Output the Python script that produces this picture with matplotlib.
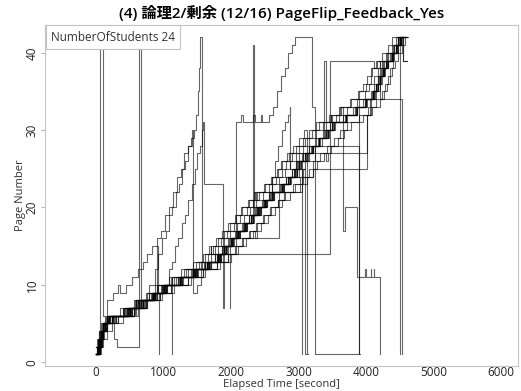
import matplotlib
matplotlib.use("Agg")
import matplotlib.pyplot as plt

plt.rcParams['font.family'] = ['Open Sans', 'Noto Sans CJK JP', 'DejaVu Sans']

title = "(4) 論理2/剰余 (12/16) PageFlip_Feedback_Yes"
xlabel = "Elapsed Time [second]"
ylabel = "Page Number"
legend_text = "NumberOfStudents 24"
xticks = [0, 1000, 2000, 3000, 4000, 5000, 6000]
yticks = [0, 10, 20, 30, 40]

# (elapsed seconds, page) for each student
s01 = [(0,1),(30,3),(60,42),(100,6),(130,5),(210,6),(300,5),(320,6),(500,7),(660,8),(870,9),(1020,10),(1260,11),(1440,12),(1470,11),(1500,12),(1660,13),(1810,14),(1910,15),(2010,16),(2110,17),(2200,18),(2310,19),(2400,20),(2510,21),(2600,22),(2760,23),(2860,24),(2940,25),(3010,26),(3110,27),(3210,28),(3310,29),(3420,30),(3520,31),(3710,32),(3860,33),(3990,34),(4110,35),(4160,36),(4210,37),(4260,38),(4310,39),(4390,40),(4460,41),(4520,42),(4580,42)]
s02 = [(0,1),(40,2),(90,4),(150,5),(260,3),(310,2),(640,42),(665,8),(700,7),(760,8),(860,9),(1000,10),(1180,11),(1360,12),(1560,13),(1620,12),(1650,13),(1710,14),(1800,15),(1900,16),(1990,17),(2090,18),(2190,19),(2280,20),(2370,21),(2470,22),(2610,23),(2710,24),(2800,25),(2870,26),(2960,27),(3060,28),(3160,29),(3260,30),(3360,31),(3560,32),(3720,33),(3870,34),(3990,35),(4050,36),(4110,37),(4170,38),(4230,39),(4310,40),(4390,41),(4450,42),(4540,42)]
s03 = [(0,1),(60,3),(160,8),(250,9),(330,10),(360,9),(450,10),(540,11),(620,12),(690,13),(760,14),(830,15),(900,16),(960,17),(1020,19),(1080,20),(1140,22),(1200,24),(1260,25),(1310,27),(1360,28),(1420,30),(1440,9),(1500,10),(1560,12),(1700,13),(1850,14),(1960,15),(2075,16),(2080,31),(2150,32),(2170,31),(2330,32),(2350,31),(2440,32),(2460,31),(2560,32),(2620,33),(2680,35),(2740,37),(2800,38),(2850,40),(2900,41),(2950,42),(3200,33),(3240,1),(3900,34),(4100,35),(4180,37),(4250,39),(4330,40),(4420,41),(4470,42),(4560,42)]
s04 = [(0,1),(50,3),(110,5),(200,6),(420,7),(600,8),(780,10),(880,12),(920,14),(980,16),(1030,17),(1080,19),(1130,20),(1180,22),(1230,23),(1280,25),(1320,26),(1370,28),(1410,29),(1450,30),(1480,32),(1510,35),(1530,38),(1545,42),(1565,12),(1680,13),(1820,14),(1920,15),(2020,16),(2120,17),(2220,18),(2320,19),(2420,20),(2520,21),(2620,22),(2770,23),(2870,24),(2960,25),(3020,26),(3120,27),(3220,28),(3320,29),(3430,30),(3530,31),(3720,32),(3870,33),(4010,34),(4120,35),(4170,36),(4220,37),(4270,38),(4320,39),(4400,40),(4470,41),(4510,42),(4550,39),(4600,39)]
s05 = [(0,2),(40,4),(100,5),(180,6),(350,7),(400,6),(460,7),(620,8),(830,9),(980,10),(1230,11),(1460,12),(1600,13),(1640,12),(1700,13),(1790,14),(1900,15),(1985,7),(1990,7)]
s06 = [(0,1),(70,3),(120,4),(230,5),(400,6),(560,7),(720,8),(850,9),(900,15),(915,9),(930,1),(935,1)]
s07 = [(0,1),(30,2),(80,4),(140,5),(250,6),(520,7),(700,8),(900,9),(1050,10),(1125,1),(1130,1)]
s08 = [(0,1),(40,2),(90,4),(160,5),(280,6),(500,7),(680,8),(870,9),(1000,10),(1080,12),(1120,13),(1170,15),(1220,16),(1270,18),(1320,19),(1370,21),(1420,23),(1460,25),(1500,27),(1540,28),(1570,30),(1590,31),(1600,23),(1880,7),(1900,15),(2000,16),(2090,17),(2190,18),(2290,19),(2390,20),(2490,21),(2590,22),(2740,23),(2840,24),(2930,25),(2990,26),(3090,27),(3190,28),(3290,29),(3390,30),(3490,31),(3690,32),(3840,33),(3980,34),(4090,35),(4140,36),(4190,37),(4240,38),(4290,39),(4370,40),(4440,41),(4490,42),(4570,42)]
s09 = [(0,1),(50,3),(100,5),(190,6),(460,7),(640,8),(840,9),(990,10),(1240,11),(1440,12),(1640,13),(1790,14),(1890,15),(1990,16),(2090,17),(2190,18),(2290,19),(2390,20),(2490,21),(2560,22),(2600,24),(2650,26),(2700,28),(2750,30),(2800,31),(2840,32),(2870,33),(2880,25),(2960,26),(3010,27),(3050,1),(3055,1)]
s10 = [(0,1),(20,2),(60,3),(90,4),(130,5),(240,6),(560,7),(600,6),(620,7),(740,8),(950,9),(1110,10),(1370,11),(1590,12),(1790,13),(1950,14),(2060,15),(2160,16),(2270,17),(2370,18),(2480,19),(2580,20),(2690,21),(2790,22),(2920,23),(3020,24),(3060,25),(3100,1),(3105,1)]
s11 = [(0,2),(30,3),(70,4),(110,5),(180,6),(420,7),(580,8),(760,9),(900,10),(1120,11),(1300,12),(1480,13),(1620,14),(1710,15),(1800,16),(1890,17),(1980,18),(2070,19),(2160,20),(2260,21),(2350,22),(2490,23),(2590,24),(2680,25),(2740,26),(2830,27),(2920,28),(3010,29),(3080,30),(3130,1),(3135,1)]
s12 = [(0,1),(60,3),(110,5),(210,6),(490,7),(660,8),(860,9),(1010,10),(1260,11),(1450,12),(1660,13),(1810,14),(3470,39),(4120,38),(4200,39),(4300,40),(4400,41),(4480,42),(4560,42)]
s13 = [(0,1),(40,3),(100,5),(200,6),(480,7),(650,8),(850,9),(1000,10),(1250,11),(1450,12),(1650,13),(1800,14),(1900,15),(2030,16),(2710,22),(3050,25),(3100,26),(3150,27),(3210,28),(3300,29),(3400,30),(3500,31),(3700,32),(3850,33),(4000,34),(4100,35),(4150,36),(4200,37),(4250,38),(4300,39),(4380,40),(4450,41),(4500,42),(4590,42)]
s14 = [(0,1),(30,2),(70,4),(120,5),(230,6),(510,7),(690,8),(880,9),(1030,10),(1270,11),(1480,12),(1670,13),(1820,14),(1920,15),(2020,16),(2120,17),(2220,18),(2320,19),(2420,20),(2520,21),(2620,22),(2770,23),(2870,24),(3220,25),(4010,32),(4060,34),(4130,35),(4180,36),(4230,37),(4280,38),(4330,39),(4410,40),(4480,41),(4530,42),(4600,42)]
s15 = [(0,1),(50,2),(80,4),(140,5),(240,6),(470,7),(630,8),(830,9),(980,10),(1220,11),(1420,12),(1620,13),(1770,14),(1870,15),(1970,16),(2070,17),(2170,18),(2270,19),(2370,20),(2470,21),(2570,22),(2720,23),(2820,24),(2910,25),(2970,26),(3070,27),(3150,28),(3900,1),(3905,1)]
s16 = [(0,1),(60,2),(100,4),(160,5),(250,6),(530,7),(700,8),(890,9),(1040,10),(1280,11),(1490,12),(1680,13),(1830,14),(1930,15),(2030,16),(2130,17),(2230,18),(2330,19),(2430,20),(2530,21),(2630,22),(2780,23),(2880,24),(2970,25),(3040,26),(3240,27),(4010,32),(4080,34),(4150,35),(4200,37),(4260,38),(4320,39),(4400,40),(4460,41),(4510,42),(4580,42)]
s17 = [(0,1),(20,3),(60,4),(100,5),(170,6),(450,7),(620,8),(820,9),(970,10),(1210,11),(1410,12),(1610,13),(1760,14),(1860,15),(1960,16),(2060,17),(2160,18),(2260,19),(2330,41),(2345,19),(2360,20),(2460,21),(2560,22),(2710,23),(2810,24),(2900,25),(2960,26),(3060,27),(3160,28),(3260,29),(3360,30),(3460,31),(3660,32),(3810,33),(3950,34),(4070,35),(4120,36),(4170,37),(4220,38),(4270,39),(4350,40),(4420,41),(4470,42),(4550,42)]
s18 = [(0,1),(40,2),(90,4),(150,5),(260,6),(540,7),(710,8),(900,9),(1050,10),(1290,11),(1500,12),(1690,13),(1840,14),(1940,15),(2040,16),(2140,17),(2240,18),(2340,19),(2440,20),(2540,21),(2640,22),(2790,23),(2890,24),(2980,25),(3040,26),(3140,27),(3240,28),(3340,29),(3440,30),(3540,31),(3600,33),(3660,17),(3690,20),(3870,11),(3990,12),(4000,11),(4070,12),(4080,11),(4110,12),(4120,11),(4200,1),(4205,1)]
s19 = [(0,1),(30,3),(80,4),(120,5),(200,6),(490,7),(660,8),(860,9),(1010,10),(1250,11),(1460,12),(1650,13),(1800,14),(1900,15),(2000,16),(2100,17),(2200,18),(2300,19),(2400,20),(2500,21),(2600,22),(2750,23),(2850,24),(2950,25),(3000,26),(3100,27),(3200,28),(3300,29),(3380,39),(3400,30),(3510,31),(3700,32),(3860,33),(4000,34),(4100,35),(4150,36),(4210,37),(4260,38),(4310,39),(4390,40),(4450,41),(4500,42),(4540,39),(4600,39)]
s20 = [(0,1),(50,3),(100,4),(140,5),(240,6),(560,7),(740,8),(950,9),(1110,10),(1360,11),(1580,12),(1790,13),(1960,14),(2070,15),(2170,16),(2280,17),(2380,18),(2490,19),(2590,20),(2700,21),(2800,22),(2950,23),(3060,24),(3160,25),(3220,26),(3320,27),(3420,28),(3520,29),(3620,30),(3720,31),(3900,32),(4030,33),(4150,34),(4230,35),(4280,36),(4320,37),(4360,38),(4400,40),(4440,41),(4470,42),(4500,1),(4505,1)]
s21 = [(0,1),(20,2),(50,4),(110,5),(170,6),(430,7),(590,8),(780,9),(920,10),(1150,11),(1340,12),(1520,13),(1660,14),(1760,15),(1850,16),(1940,17),(2040,18),(2130,19),(2230,20),(2320,21),(2420,22),(2560,23),(2660,24),(2750,25),(2810,26),(2900,27),(3000,28),(3100,29),(3200,30),(3300,31),(3480,32),(3630,33),(3780,34),(3900,35),(4000,36),(4080,38),(4150,39),(4200,34),(4530,1),(4535,1)]
s22 = [(0,1),(40,3),(70,5),(130,4),(160,5),(230,6),(470,7),(500,6),(520,7),(640,8),(850,9),(990,10),(1020,9),(1040,10),(1240,11),(1450,12),(1480,11),(1510,12),(1650,13),(1800,14),(1830,13),(1850,14),(1900,15),(2000,16),(2100,17),(2200,18),(2300,19),(2400,20),(2430,19),(2450,20),(2500,21),(2600,22),(2750,23),(2850,24),(2950,25),(2980,24),(3000,26),(3100,27),(3200,28),(3300,29),(3400,30),(3430,29),(3450,30),(3500,31),(3700,32),(3850,33),(4000,34),(4100,35),(4150,36),(4200,37),(4250,38),(4300,39),(4380,40),(4450,41),(4500,42),(4600,42)]
s23 = [(0,1),(30,2),(60,3),(100,5),(170,6),(400,7),(560,8),(590,7),(610,8),(740,9),(880,10),(1080,11),(1110,10),(1130,11),(1260,12),(1440,13),(1580,14),(1680,15),(1710,14),(1730,15),(1780,16),(1870,17),(1960,18),(2060,19),(2150,20),(2250,21),(2340,22),(2370,21),(2390,22),(2500,23),(2600,24),(2700,25),(2760,26),(2860,27),(2960,28),(3060,29),(3160,30),(3260,31),(3450,32),(3480,31),(3500,32),(3620,33),(3760,34),(3880,35),(3950,36),(4020,37),(4090,38),(4160,39),(4240,40),(4320,41),(4390,42),(4470,42)]
s24 = [(0,2),(50,3),(90,5),(150,6),(300,5),(330,6),(580,7),(760,8),(980,9),(1150,10),(1400,11),(1620,12),(1830,13),(2000,14),(2110,15),(2220,16),(2330,17),(2360,16),(2380,17),(2440,18),(2550,19),(2650,20),(2760,21),(2870,22),(3020,23),(3120,24),(3220,25),(3280,26),(3380,27),(3410,26),(3430,27),(3480,28),(3580,29),(3680,30),(3780,31),(3960,32),(4090,33),(4200,34),(4270,35),(4310,36),(4350,37),(4390,38),(4430,39),(4480,40),(4530,41),(4570,42),(4620,42)]

students = [s01, s02, s03, s04, s05, s06, s07, s08, s09, s10, s11, s12,
            s13, s14, s15, s16, s17, s18, s19, s20, s21, s22, s23, s24]

fig = plt.figure(figsize=(5.21, 3.91), dpi=100)
ax = fig.add_axes([45/521, 25/391, 473/521, 341/391])

for s in students:
    t = [a for a, b in s]
    p = [b for a, b in s]
    ax.plot(t, p, drawstyle='steps-post', color='black', lw=0.8, alpha=0.6)

ax.set_xlim(-755, 6250)
ax.set_ylim(-0.5, 43.6)
ax.set_xticks(xticks)
ax.set_yticks(yticks)
ax.tick_params(axis='x', length=0, labelsize=8.5, pad=0, labelcolor='#222222')
ax.tick_params(axis='y', length=3, width=0.6, color='#aaaaaa', labelsize=8.5, pad=1.5, labelcolor='#222222')
for lab in ax.get_yticklabels():
    lab.set_rotation(90)
    lab.set_va('center')
for sp in ax.spines.values():
    sp.set_color('#c4c4c4')
    sp.set_linewidth(0.8)

ax.set_xlabel(xlabel, fontsize=8, color='#333333', va='bottom')
ax.xaxis.set_label_coords(0.5, -0.0705)
ax.set_ylabel(ylabel, fontsize=8, color='#333333', va='center')
ax.yaxis.set_label_coords(-0.052, 0.5)
ax.set_title(title, fontsize=11, fontweight='semibold', pad=5)

ax.annotate(legend_text, xy=(0, 1), xycoords='axes fraction', xytext=(4.3, -4.0),
            textcoords='offset points', ha='left', va='top', fontsize=8.5, color='#333333',
            bbox=dict(boxstyle='square,pad=0.45', fc='white', ec='#c4c4c4', lw=0.8), zorder=10)

fig.savefig('out.png', dpi=100)
